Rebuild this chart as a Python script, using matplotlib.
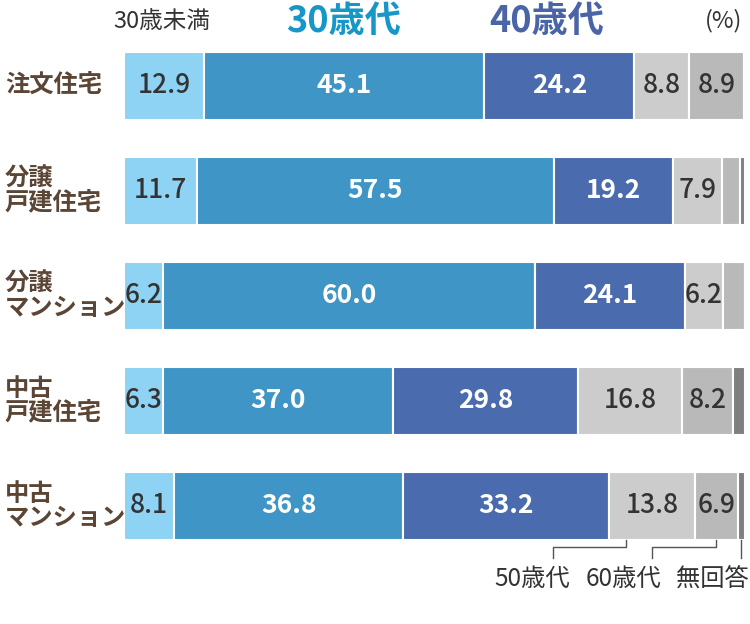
import matplotlib.pyplot as plt
import numpy as np

# -----------------------------
# Data
# -----------------------------
categories = ["注文住宅", "分譲\n戸建住宅", "分譲\nマンション", "中古\n戸建住宅", "中古\nマンション"]
age_groups = ["30歳未満", "30歳代", "40歳代", "50歳代", "60歳代", "無回答"]

under30 = [12.9, 11.7, 6.2, 6.3, 8.1]
age30s = [45.1, 57.5, 60.0, 37.0, 36.8]
age40s = [24.2, 19.2, 24.1, 29.8, 33.2]
age50s = [8.8, 7.9, 6.2, 16.8, 13.8]
age60s = [8.9, 2.9, 3.5, 8.2, 6.9]
no_answer = [0.0, 0.8, 0.0, 1.9, 1.2]

# -----------------------------
# Style
# -----------------------------
colors = ["#8FD3F4", "#3F95C6", "#4A6BAD", "#CCCCCC", "#B9B9B9", "#7F7F7F"]
text_colors = ["#333333", "white", "white", "#333333", "#333333", "#333333"]
jp_font = ["Noto Sans CJK JP", "DejaVu Sans"]
plt.rcParams["font.family"] = jp_font

series = [under30, age30s, age40s, age50s, age60s, no_answer]

fig = plt.figure(figsize=(7.5, 6.24), dpi=100)
ax = fig.add_axes([124 / 750, 0, 621 / 750, 1])
ax.set_xlim(0, 100)
ax.set_ylim(5.124, -0.819)
ax.axis("off")

y = np.arange(len(categories))
bar_h = 0.65
left = np.zeros(len(categories))

for k, vals in enumerate(series):
    vals = np.array(vals)
    ax.barh(y, vals, left=left, height=bar_h, color=colors[k],
            edgecolor="white", linewidth=1.5)
    for i, v in enumerate(vals):
        if v >= 5:
            ax.text(left[i] + v / 2, y[i], f"{v:.1f}", ha="center", va="center",
                    fontsize=19, color=text_colors[k],
                    fontweight="bold" if k in (1, 2) else "medium")
    left += vals

# -----------------------------
# Category labels
# -----------------------------
for i, cat in enumerate(categories):
    ax.text(-119 / 6.21, y[i], cat, ha="left", va="center", fontsize=17.5,
            fontweight="bold", color="#5B4535", linespacing=1.05)

# -----------------------------
# Header labels
# -----------------------------
def fy(py):
    return 1 - py / 624

fig.text(162 / 750, fy(21), age_groups[0], ha="center", va="center",
         fontsize=17, color="#333333")
fig.text(344 / 750, fy(21), age_groups[1], ha="center", va="center",
         fontsize=26, fontweight="bold", color="#1796C8")
fig.text(547 / 750, fy(21), age_groups[2], ha="center", va="center",
         fontsize=26, fontweight="bold", color="#4A64A8")
fig.text(724 / 750, fy(21), "(%)", ha="center", va="center",
         fontsize=17, color="#333333")

# -----------------------------
# Bottom brackets (last row)
# -----------------------------
last = len(categories) - 1
cum = np.cumsum([s[last] for s in series])
starts = cum - np.array([s[last] for s in series])
bottom = y[last] + bar_h / 2
y_mid = bottom + 0.07
y_low = bottom + 0.17
y_lab = bottom + 0.37
line_kw = dict(color="#555555", lw=1)

# 50歳代
x_a = starts[3] + 0.2 * series[3][last]
x_d = x_a - 11.7
ax.plot([x_a, x_a, x_d, x_d], [bottom, y_mid, y_mid, y_low], **line_kw)
ax.text(x_d - 3.4, y_lab, age_groups[3], ha="center", va="center",
        fontsize=17.5, color="#333333")

# 60歳代
x_a = starts[4] + series[4][last] / 2
x_d = x_a - 10.3
ax.plot([x_a, x_a, x_d, x_d], [bottom, y_mid, y_mid, y_low], **line_kw)
ax.text(x_d - 4.7, y_lab, age_groups[4], ha="center", va="center",
        fontsize=17.5, color="#333333")

# 無回答
x_a = starts[5] + series[5][last] / 2
ax.plot([x_a, x_a], [bottom, y_low], **line_kw)
ax.text(x_a - 4.6, y_lab, age_groups[5], ha="center", va="center",
        fontsize=17.5, color="#333333")

fig.savefig("out.png", dpi=100)
